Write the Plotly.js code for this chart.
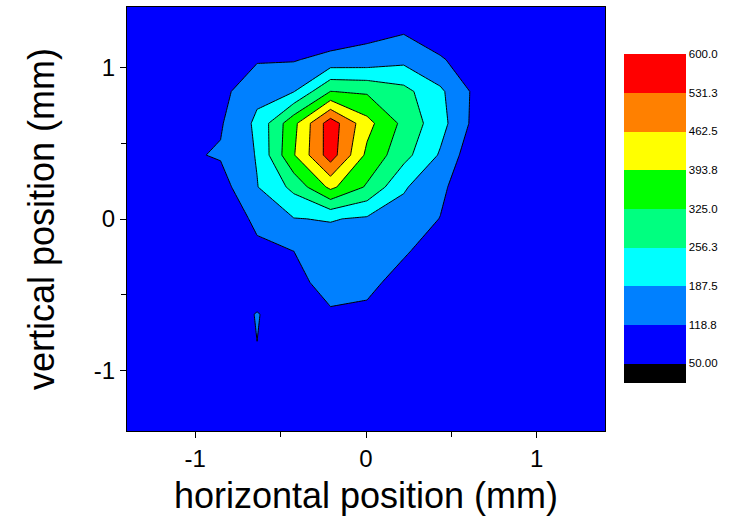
<!DOCTYPE html>
<html>
<head>
<meta charset="utf-8">
<script src="https://cdn.plot.ly/plotly-3.0.1.min.js"></script>
<style>html,body{margin:0;padding:0;background:#fff;}#chart{width:734px;height:521px;}</style>
</head>
<body>
<div id="chart"></div>
<script>
// grid positions (mm)
var xPos = [-1.496, -1.281, -1.067, -0.852, -0.638, -0.423, -0.208, 0.006, 0.221, 0.435, 0.650, 0.865, 1.079, 1.294, 1.508];
var yPos = [-1.469, -1.259, -1.049, -0.839, -0.629, -0.419, -0.209, 0.001, 0.211, 0.422, 0.632, 0.842, 1.052, 1.262, 1.472];
// intensity, one row per yPos value
var zRows = [
  [72, 75, 78, 80, 82, 84, 85, 84, 82, 80, 78, 76, 74, 72, 70],
  [74, 77, 80, 83, 86, 88, 90, 88, 85, 82, 80, 78, 75, 73, 71],
  [76, 79, 83, 87, 92, 95, 96, 94, 90, 86, 82, 79, 76, 74, 72],
  [77, 81, 85, 90, 118, 96, 85, 88, 86, 84, 81, 78, 76, 74, 72],
  [78, 82, 86, 70, 123, 70, 112, 100, 80, 84, 82, 79, 77, 75, 73],
  [80, 84, 88, 84, 68, 102, 140, 142, 85, 82, 81, 79, 77, 75, 73],
  [82, 86, 90, 95, 113, 119, 150, 160, 130, 74, 78, 79, 77, 75, 73],
  [84, 88, 93, 98, 125, 185, 192, 178, 159, 117, 80, 79, 77, 75, 73],
  [85, 89, 85, 90, 185, 275, 410, 316, 195, 135, 55, 70, 76, 75, 73],
  [86, 90, 109, 125, 192, 389, 566, 378, 280, 180, 62, 72, 76, 75, 73],
  [86, 90, 88, 112, 202, 375, 569, 416, 307, 213, 92, 78, 76, 75, 73],
  [85, 89, 92, 98, 169, 185, 326, 316, 278, 200, 99, 82, 77, 75, 73],
  [84, 87, 89, 90, 112, 114, 141, 145, 169, 125, 85, 80, 76, 74, 72],
  [82, 85, 86, 87, 86, 85, 60, 93, 106, 80, 80, 78, 75, 73, 71],
  [80, 82, 83, 84, 84, 83, 80, 82, 84, 80, 78, 76, 74, 72, 70]
];
// contour levels and colorbar labels
var levelStart = 50, levelEnd = 600, levelStep = 68.75;
var levelVals = [50, 118.75, 187.5, 256.25, 325, 393.75, 462.5, 531.25, 600];
var levelText = ['50.00', '118.8', '187.5', '256.3', '325.0', '393.8', '462.5', '531.3', '600.0'];
var bandColors = ['#000000', '#0000FF', '#0080FF', '#00FFFF', '#00FF80', '#00FF00', '#FFFF00', '#FF8000', '#FF0000', '#FFFFFF'];
var axisTickVals = [-1, 0, 1];
var axisTickText = ['-1', '0', '1'];
var axisMinorVals = [-0.5, 0.5];

var colorscale = bandColors.map(function (c, i) { return [i / (bandColors.length - 1), c]; });
var FONT = 'Arial, "Liberation Sans", sans-serif';

var fillTrace = {
  type: 'contour', x: xPos, y: yPos, z: zRows,
  autocontour: false,
  contours: {start: levelStart, end: levelEnd, size: levelStep, coloring: 'fill', showlines: false},
  line: {smoothing: 0, width: 0},
  colorscale: colorscale,
  hoverinfo: 'skip',
  colorbar: {
    tickmode: 'array', tickvals: levelVals, ticktext: levelText,
    ticks: '', outlinewidth: 0, borderwidth: 0,
    thicknessmode: 'pixels', thickness: 62,
    lenmode: 'pixels', len: 348,
    x: 1.0397, xanchor: 'left', xpad: 0,
    y: 0.9347, yanchor: 'top', ypad: 0,
    tickfont: {family: FONT, size: 11.5, color: '#000'}
  }
};
var lineTrace = {
  type: 'contour', x: xPos, y: yPos, z: zRows,
  autocontour: false,
  contours: {start: levelStart, end: levelEnd, size: levelStep, coloring: 'none', showlines: true},
  line: {color: '#000', width: 1, smoothing: 0},
  showscale: false,
  hoverinfo: 'skip'
};

function axis(title, standoff) {
  return {
    range: [-1.4, 1.4],
    tickmode: 'array', tickvals: axisTickVals, ticktext: axisTickText,
    ticks: 'outside', ticklen: 6, tickwidth: 1, tickcolor: '#000',
    minor: {tickmode: 'array', tickvals: axisMinorVals, ticks: 'outside', ticklen: 5, tickwidth: 1, tickcolor: '#000'},
    showline: true, mirror: true, linecolor: '#000', linewidth: 1,
    showgrid: false, zeroline: false,
    tickfont: {family: FONT, size: 24, color: '#000'},
    title: {text: title, font: {family: FONT, size: 36, color: '#000'}, standoff: standoff}
  };
}

var layout = {
  width: 734, height: 521,
  margin: {l: 127, r: 129, t: 7, b: 90, pad: 0},
  paper_bgcolor: '#fff', plot_bgcolor: '#fff',
  font: {family: FONT, color: '#000'},
  xaxis: axis('horizontal position (mm)', 12),
  yaxis: axis('vertical position (mm)', 28),
  showlegend: false
};

Plotly.newPlot('chart', [fillTrace, lineTrace], layout, {staticPlot: true, displayModeBar: false});
</script>
</body>
</html>
